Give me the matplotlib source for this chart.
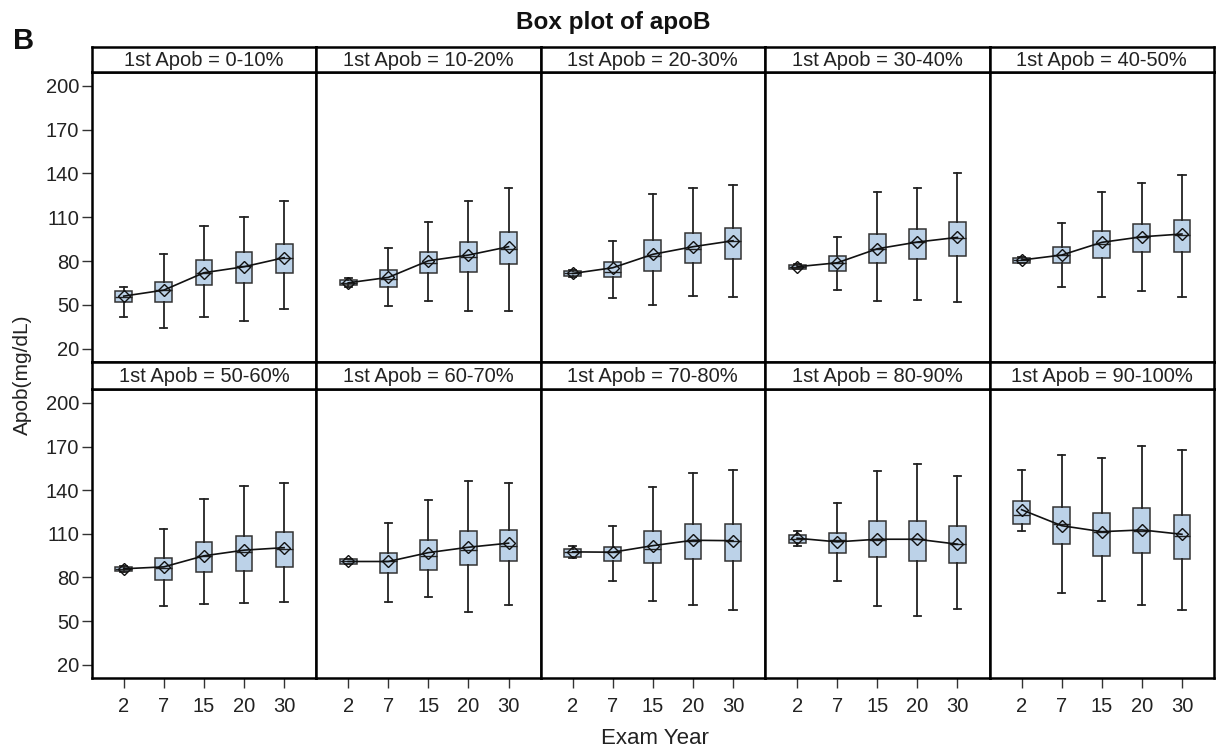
import matplotlib
matplotlib.use("Agg")
import matplotlib.pyplot as plt

plt.rcParams['font.family'] = ['Liberation Sans', 'DejaVu Sans']

years = ["2", "7", "15", "20", "30"]
groups = ["0-10%", "10-20%", "20-30%", "30-40%", "40-50%",
          "50-60%", "60-70%", "70-80%", "80-90%", "90-100%"]

whisker_low = [
    [41.8, 33.9, 41.8, 39.1, 47.1],
    [62.0, 49.4, 52.6, 45.8, 45.8],
    [69.0, 54.9, 49.9, 56.2, 55.5],
    [74.5, 60.1, 52.6, 53.3, 51.9],
    [79.0, 62.4, 55.1, 59.2, 55.5],
    [84.0, 60.1, 61.8, 62.5, 62.9],
    [89.0, 63.2, 66.3, 56.5, 61.3],
    [93.3, 77.9, 63.6, 61.3, 57.9],
    [101.7, 77.3, 60.1, 53.3, 58.6],
    [112.2, 69.3, 63.8, 60.8, 57.9],
]
q1 = [
    [52.1, 52.1, 63.6, 65.1, 71.6],
    [63.6, 62.4, 71.6, 72.7, 77.7],
    [69.7, 69.2, 73.2, 78.4, 81.6],
    [74.5, 73.4, 78.4, 81.2, 83.4],
    [79.0, 78.4, 81.8, 86.2, 86.4],
    [84.3, 78.4, 83.7, 84.8, 87.5],
    [89.5, 83.0, 85.3, 88.9, 91.2],
    [94.4, 91.6, 89.8, 92.6, 91.4],
    [104.0, 97.1, 94.0, 91.6, 89.8],
    [116.6, 102.9, 95.1, 96.7, 92.6],
]
median = [
    [55.5, 60.0, 71.5, 76.5, 82.0],
    [65.0, 67.5, 78.8, 82.9, 88.0],
    [71.5, 72.3, 83.4, 88.4, 93.5],
    [76.0, 78.8, 88.0, 92.8, 95.5],
    [80.7, 84.0, 92.0, 96.2, 98.0],
    [86.0, 86.4, 94.5, 97.6, 99.4],
    [91.0, 91.0, 94.9, 99.0, 101.7],
    [97.6, 97.4, 99.4, 105.0, 105.0],
    [106.5, 105.8, 105.8, 106.3, 102.9],
    [122.7, 116.6, 111.0, 112.3, 108.8],
]
q3 = [
    [59.7, 65.4, 80.7, 86.2, 91.4],
    [67.0, 73.8, 86.2, 93.0, 99.9],
    [73.2, 79.5, 94.4, 99.4, 102.8],
    [77.5, 83.4, 98.5, 101.9, 106.9],
    [82.3, 89.8, 100.8, 105.5, 108.3],
    [87.5, 93.3, 104.5, 108.6, 111.5],
    [92.6, 97.1, 105.6, 112.0, 112.7],
    [99.5, 101.2, 112.0, 116.6, 116.8],
    [109.2, 110.8, 118.8, 119.0, 115.4],
    [132.3, 128.6, 124.1, 127.7, 122.9],
]
whisker_high = [
    [62.0, 84.8, 104.2, 110.3, 120.9],
    [68.6, 88.7, 106.9, 120.9, 130.3],
    [74.0, 93.5, 125.9, 129.8, 132.0],
    [77.8, 96.6, 127.0, 130.3, 140.5],
    [82.5, 106.0, 127.0, 133.6, 139.1],
    [87.8, 113.2, 133.9, 142.8, 145.3],
    [93.0, 117.3, 133.2, 146.2, 145.1],
    [101.7, 115.4, 141.9, 151.9, 153.8],
    [112.2, 131.4, 153.3, 157.7, 149.9],
    [153.8, 164.5, 162.0, 170.4, 167.5],
]
mean = [
    [56.0, 60.1, 72.0, 76.1, 82.3],
    [65.1, 68.8, 80.2, 84.1, 89.8],
    [71.5, 75.4, 84.6, 89.8, 93.9],
    [76.1, 78.8, 88.4, 93.0, 96.2],
    [80.7, 84.1, 92.8, 96.6, 98.5],
    [86.0, 87.3, 94.9, 98.8, 100.5],
    [91.0, 91.0, 97.1, 100.8, 103.6],
    [97.6, 97.4, 101.9, 105.6, 105.3],
    [107.0, 104.5, 106.3, 106.3, 102.9],
    [126.6, 115.6, 111.5, 112.7, 109.7],
]
y_ticks = [20, 50, 80, 110, 140, 170, 200]

W, H = 1216, 751
fig = plt.figure(figsize=(W / 100, H / 100), dpi=100)

left0 = 91.7
right_end = 1214.0
pw = (right_end - left0) / 5
rows = [  # (strip_top, plot_top, plot_bottom)
    (46.7, 71.7, 361.7),
    (362.3, 389.0, 677.7),
]
text_col = '#222222'
box_fill = '#bcd2e8'

for i, g in enumerate(groups):
    r, c = divmod(i, 5)
    st, pt, pb = rows[r]
    x0 = left0 + c * pw
    ax = fig.add_axes([x0 / W, 1 - pb / H, pw / W, (pb - pt) / H])
    sax = fig.add_axes([x0 / W, 1 - pt / H, pw / W, (pt - st) / H])
    sax.set_xticks([]); sax.set_yticks([])
    for s in sax.spines.values():
        s.set_linewidth(1.8)
    sax.text(0.5, 0.45, f"1st Apob = {g}", ha='center', va='center',
             fontsize=14.5, color=text_col, transform=sax.transAxes)

    stats = []
    for k in range(5):
        stats.append(dict(whislo=whisker_low[i][k], q1=q1[i][k],
                          med=median[i][k], q3=q3[i][k],
                          whishi=whisker_high[i][k], fliers=[]))
    pos = list(range(5))
    ax.bxp(stats, positions=pos, widths=0.42, capwidths=0.18,
           patch_artist=True, showfliers=False,
           boxprops=dict(facecolor=box_fill, edgecolor='#333333', linewidth=1.1),
           medianprops=dict(color='#222222', linewidth=1.0),
           whiskerprops=dict(color='#222222', linewidth=1.3),
           capprops=dict(color='#222222', linewidth=1.3))
    ax.plot(pos, mean[i], color='#111111', linewidth=1.2, marker='D',
            markersize=6.3, markerfacecolor='none', markeredgecolor='#111111',
            markeredgewidth=1.0, zorder=5)

    ax.set_xlim(-0.8, 4.8)
    ax.set_ylim(11.1, 209.6)
    for s in ax.spines.values():
        s.set_linewidth(1.8)
    ax.set_yticks(y_ticks)
    ax.set_xticks(pos)
    ax.tick_params(axis='both', direction='out', length=7, width=1.0,
                   color='#333333', labelsize=14.5, labelcolor=text_col)
    ax.tick_params(axis='x', pad=7)
    ax.tick_params(axis='y', pad=2)
    if c == 0:
        ax.set_yticklabels([str(v) for v in y_ticks])
    else:
        ax.tick_params(axis='y', left=False, labelleft=False)
    if r == 1:
        ax.set_xticklabels(years)
    else:
        ax.tick_params(axis='x', bottom=False, labelbottom=False)

fig.text(613.5 / W, 1 - 22 / H, "Box plot of apoB", ha='center', va='center',
         fontsize=17.5, fontweight='bold', color='#111111')
fig.text(13 / W, 1 - 41 / H, "B", ha='left', va='center',
         fontsize=21, fontweight='bold', color='#111111')
fig.text(22 / W, 1 - 375 / H, "Apob(mg/dL)", ha='center', va='center',
         rotation=90, fontsize=15, color=text_col)
fig.text(655 / W, 1 - 738 / H, "Exam Year", ha='center', va='center',
         fontsize=16, color=text_col)

fig.savefig("out.png", dpi=100)
